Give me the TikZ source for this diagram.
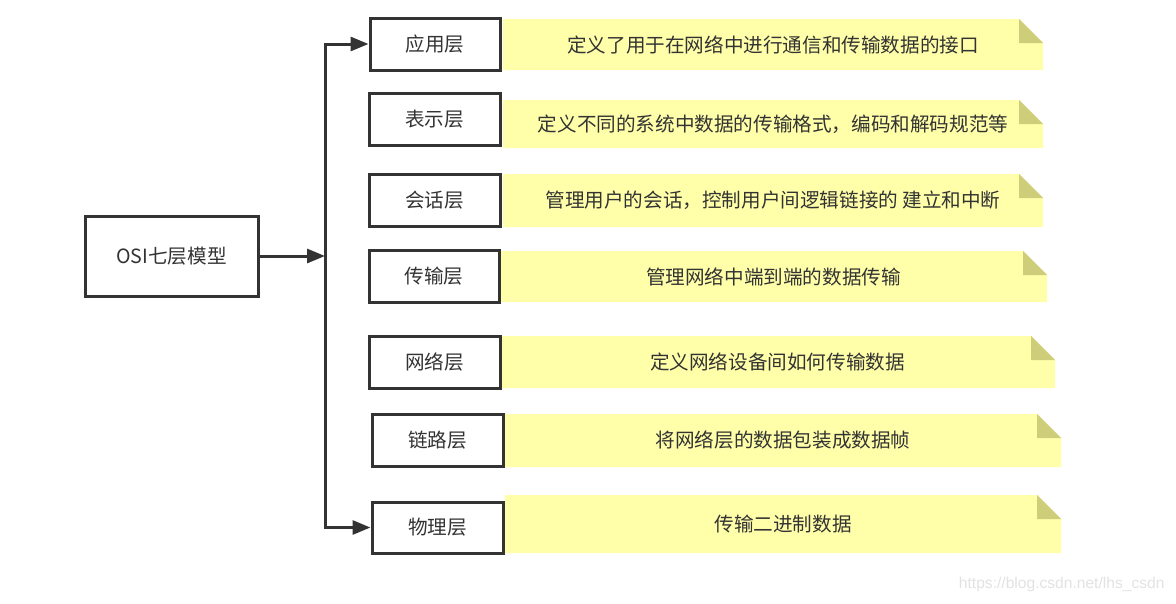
\documentclass[tikz,border=0pt]{standalone}
\usepackage{fontspec}
\setmainfont{Noto Sans CJK SC}
\newfontfamily\wmfont{Liberation Sans}
\usetikzlibrary{arrows.meta}
\definecolor{ink}{HTML}{333333}
\definecolor{notey}{HTML}{FFFFAA}
\definecolor{notef}{HTML}{CDCD7A}
\definecolor{wmgray}{HTML}{E2E2E2}
\tikzset{
  layerbox/.style={draw=ink, line width=3pt, rectangle, inner sep=0pt, text=ink,
    font=\fontsize{19.6pt}{23pt}\selectfont},
  notebox/.style={rectangle, inner sep=0pt, text=ink,
    font=\fontsize{19.6pt}{23pt}\selectfont,
    path picture={
      \fill[notey] (path picture bounding box.north west)
        -- ([xshift=-24pt]path picture bounding box.north east)
        -- ([yshift=-24pt]path picture bounding box.north east)
        -- (path picture bounding box.south east)
        -- (path picture bounding box.south west) -- cycle;
      \fill[notef] ([xshift=-24pt]path picture bounding box.north east)
        -- ([xshift=-24pt,yshift=-24pt]path picture bounding box.north east)
        -- ([yshift=-24pt]path picture bounding box.north east) -- cycle;
    }},
  conn/.style={draw=ink, line width=3pt},
  arr/.style={conn, -{Triangle[length=18pt,width=14pt]}},
}
\begin{document}
\begin{tikzpicture}[x=1pt,y=-1pt]
\useasboundingbox (0,0) rectangle (1176,603);
% notes
\node[notebox, minimum width=540pt, minimum height=51pt] (n1) at (773,44.5) {定义了用于在网络中进行通信和传输数据的接口};
\node[notebox, minimum width=540pt, minimum height=48pt] (n2) at (773,124) {定义不同的系统中数据的传输格式，编码和解码规范等};
\node[notebox, minimum width=540pt, minimum height=53pt] (n3) at (773,200.5) {管理用户的会话，控制用户间逻辑链接的 建立和中断};
\node[notebox, minimum width=547pt, minimum height=51pt] (n4) at (773.5,276.5) {管理网络中端到端的数据传输};
\node[notebox, minimum width=555pt, minimum height=52pt] (n5) at (777.5,362) {定义网络设备间如何传输数据};
\node[notebox, minimum width=556pt, minimum height=53pt] (n6) at (783,440.5) {将网络层的数据包装成数据帧};
\node[notebox, minimum width=556pt, minimum height=58pt] (n7) at (783,524) {传输二进制数据};
% layer boxes
\node[layerbox, minimum width=130pt, minimum height=52pt] (app) at (435,44) {应用层};
\node[layerbox, minimum width=131pt, minimum height=52pt] (pres) at (434.5,119) {表示层};
\node[layerbox, minimum width=131pt, minimum height=52pt] (sess) at (434.5,200) {会话层};
\node[layerbox, minimum width=130pt, minimum height=52pt] (trans) at (434,276) {传输层};
\node[layerbox, minimum width=131pt, minimum height=52pt] (net) at (434.5,362) {网络层};
\node[layerbox, minimum width=131pt, minimum height=52pt] (link) at (437.5,440) {链路层};
\node[layerbox, minimum width=131pt, minimum height=51pt] (phys) at (437.5,527.5) {物理层};
\node[layerbox, minimum width=173pt, minimum height=80pt] (osi) at (171.5,256) {OSI七层模型};
% connectors
\coordinate (tt) at (325,44);
\coordinate (tm) at (325,256);
\coordinate (tb) at (325,527.5);
\draw[conn, line cap=rect] (tt) -- (tb);
\draw[arr] (tt) -- (app.west);
\draw[arr] (tb) -- (phys.west);
\draw[arr] (osi.east) -- (tm);
% watermark
\node[text=wmgray, font=\wmfont\fontsize{15.6pt}{18pt}\selectfont, anchor=east] (wm) at (1168,584) {https://blog.csdn.net/lhs\_csdn};
\end{tikzpicture}
\end{document}
